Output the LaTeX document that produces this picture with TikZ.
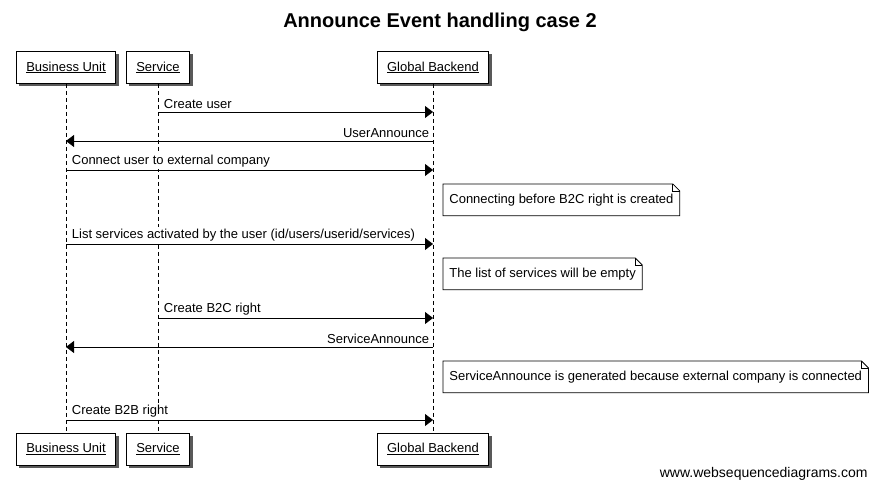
\documentclass[tikz,border=0pt]{standalone}
\usepackage{fontspec}
\setmainfont{Liberation Sans}
\usetikzlibrary{arrows.meta,shadows}

\begin{document}
\begin{tikzpicture}[x=1pt,y=-1pt,line width=0.8pt,
    actor/.style={draw,fill=white,minimum height=32pt,inner xsep=10pt,
        drop shadow={shadow xshift=3pt,shadow yshift=-3pt,fill=black!65,opacity=1},font=\fontsize{13}{15}\selectfont},
    lifeline/.style={dash pattern=on 4pt off 3pt},
    msg/.style={-{Triangle[length=8pt,width=12pt]}},
    lbl/.style={font=\fontsize{13}{15}\selectfont,inner sep=1.5pt,fill=white},
    notebox/.style={font=\fontsize{13}{15}\selectfont,inner xsep=6pt,minimum height=31pt}]
    \useasboundingbox (0,0) rectangle (878,489);
    \node[font=\bfseries\fontsize{20}{24}\selectfont] (title) at (440,22) {Announce Event handling case 2};

    % participants
    \node[actor] (buTop) at (66,67.5) {\underline{Business Unit}};
    \node[actor] (svTop) at (158,67.5) {\underline{Service}};
    \node[actor] (gbTop) at (433,67.5) {\underline{Global Backend}};
    \node[actor] (buBot) at (66,449) {\underline{Business Unit}};
    \node[actor] (svBot) at (158,449) {\underline{Service}};
    \node[actor] (gbBot) at (433,449) {\underline{Global Backend}};
    \draw[lifeline] (buTop) -- (buBot);
    \draw[lifeline] (svTop) -- (svBot);
    \draw[lifeline] (gbTop) -- (gbBot);

    % messages
    \draw[msg] (svTop |- 0,112) -- node[lbl,pos=0,anchor=south west,xshift=4pt,yshift=1pt] {Create user} (gbTop |- 0,112);
    \draw[msg] (gbTop |- 0,141) -- node[lbl,pos=0,anchor=south east,xshift=-2pt,yshift=1pt] {UserAnnounce} (buTop |- 0,141);
    \draw[msg] (buTop |- 0,170) -- node[lbl,pos=0,anchor=south west,xshift=4pt,yshift=1pt] {Connect user to external company} (gbTop |- 0,170);
    \draw[msg] (buTop |- 0,244) -- node[lbl,pos=0,anchor=south west,xshift=4pt,yshift=1pt] {List services activated by the user (id/users/userid/services)} (gbTop |- 0,244);
    \draw[msg] (svTop |- 0,318) -- node[lbl,pos=0,anchor=south west,xshift=4pt,yshift=1pt] {Create B2C right} (gbTop |- 0,318);
    \draw[msg] (gbTop |- 0,347) -- node[lbl,pos=0,anchor=south east,xshift=-2pt,yshift=1pt] {ServiceAnnounce} (buTop |- 0,347);
    \draw[msg] (buTop |- 0,420) -- node[lbl,pos=0,anchor=south west,xshift=4pt,yshift=1pt] {Create B2B right} (gbTop |- 0,420);

    % notes
    \foreach \nm/\ny/\txt in {noteA/184/{Connecting before B2C right is created},
        noteB/258/{The list of services will be empty},
        noteC/361/{ServiceAnnounce is generated because external company is connected}} {
        \node[notebox,anchor=north west] (\nm) at (443,\ny) {\txt};
        \draw[fill=white] (\nm.south west) -- (\nm.north west) -- ([xshift=-7pt]\nm.north east)
            -- ([yshift=-7pt]\nm.north east) -- (\nm.south east) -- cycle;
        \draw ([xshift=-7pt]\nm.north east) -- ([xshift=-7pt,yshift=-7pt]\nm.north east) -- ([yshift=-7pt]\nm.north east);
        \node[notebox,anchor=north west] at (443,\ny) {\txt};
    }

    \node[font=\fontsize{14}{16}\selectfont,anchor=east,inner sep=1pt] (credit) at (869,474) {www.websequencediagrams.com};
\end{tikzpicture}
\end{document}
